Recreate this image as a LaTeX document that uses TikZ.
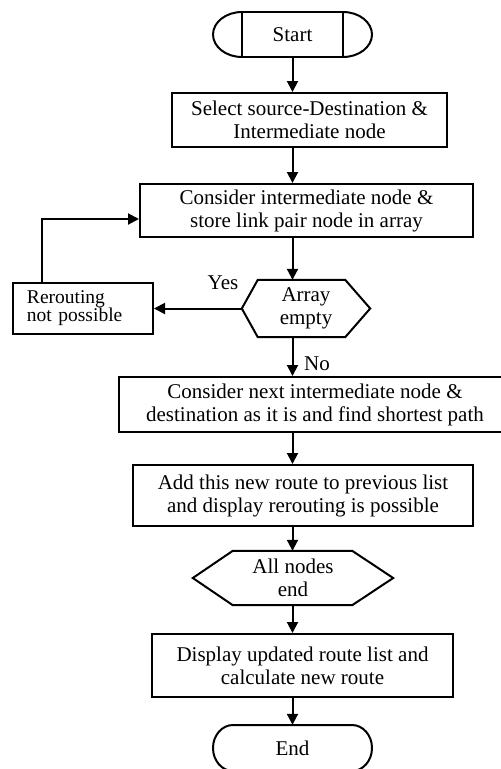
\documentclass[tikz,border=0pt]{standalone}
\usepackage{fontspec}
\setmainfont{Liberation Serif}
\usetikzlibrary{arrows.meta}
\begin{document}
\begin{tikzpicture}[x=1pt,y=-1pt,
  edgeline/.style={line width=2pt, draw=black},
  procbox/.style={draw=black, line width=2pt, rectangle, inner sep=0pt, align=center, font=\fontsize{21}{23}\selectfont},
  txt/.style={inner sep=0pt, align=center, font=\fontsize{21}{23}\selectfont},
  flowarrow/.style={line width=2pt, -{Triangle[width=11pt,length=11pt]}}]
\useasboundingbox (0,0) rectangle (501,769);
% Start terminal
\node[txt, minimum width=101pt, minimum height=45pt] (start) at (292.5,34.5) {Start};
\draw[edgeline] (start.north west) rectangle (start.south east);
\draw[edgeline] (242,12) .. controls (226,12) and (213,22.1) .. (213,34.5) .. controls (213,46.9) and (226,57) .. (242,57);
\draw[edgeline] (343,12) .. controls (359,12) and (372,22.1) .. (372,34.5) .. controls (372,46.9) and (359,57) .. (343,57);
% Boxes
\node[procbox, minimum width=275pt, minimum height=54pt] (b1) at (309.5,120) {Select source-Destination \&\\Intermediate node};
\node[procbox, minimum width=333pt, minimum height=53pt] (b2) at (306.5,210.5) {Consider intermediate node \&\\store link pair node in array};
\node[procbox, minimum width=140pt, minimum height=51pt, align=left, text width=112pt, inner xsep=14pt, font=\fontsize{19.5}{18}\selectfont] (rr) at (83,308.5) {Rerouting\\not possible};
\node[txt, minimum width=128pt, minimum height=57pt] (h1) at (306,308.5) {Array\\empty};
\draw[edgeline] (h1.west) -- ([xshift=16pt]h1.north west) -- ([xshift=-25pt]h1.north east) -- (h1.east) -- ([xshift=-25pt]h1.south east) -- ([xshift=16pt]h1.south west) -- cycle;
\node[procbox, minimum width=392pt, minimum height=55pt] (b3) at (315,404.5) {Consider next intermediate node \&\\destination as it is and find shortest path};
\node[procbox, minimum width=340pt, minimum height=61pt] (b4) at (303,495.5) {Add this new route to previous list\\and display rerouting is possible};
\node[txt, minimum width=200pt, minimum height=54pt] (h2) at (293,578) {All nodes\\end};
\draw[edgeline] (h2.west) -- ([xshift=40pt]h2.north west) -- ([xshift=-41pt]h2.north east) -- (h2.east) -- ([xshift=-41pt]h2.south east) -- ([xshift=40pt]h2.south west) -- cycle;
\node[procbox, minimum width=301pt, minimum height=63pt] (b5) at (302.5,665.5) {Display updated route list and\\calculate new route};
% End terminal
\node[txt, minimum width=159pt, minimum height=46pt] (endn) at (292.5,748) {End};
\draw[edgeline] (233,725) -- (352,725) .. controls (363,725) and (372,735.3) .. (372,748) .. controls (372,760.7) and (363,771) .. (352,771) -- (233,771) .. controls (222,771) and (213,760.7) .. (213,748) .. controls (213,735.3) and (222,725) .. (233,725) -- cycle;
% Labels
\node[txt] (yes) at (223,283) {Yes};
\node[txt, anchor=west] (no) at (304,364) {No};
% Arrows
\draw[flowarrow] (start.south) -- (start.south |- b1.north);
\draw[flowarrow] (start.south |- b1.south) -- (start.south |- b2.north);
\draw[flowarrow] (start.south |- b2.south) -- (start.south |- h1.north);
\draw[flowarrow] (h1.west) -- (h1.west -| rr.east);
\coordinate (loop) at (42,219);
\draw[flowarrow] (rr.north -| loop) -- (loop) -- (loop -| b2.west);
\draw[flowarrow] (start.south |- h1.south) -- (start.south |- b3.north);
\draw[flowarrow] (start.south |- b3.south) -- (start.south |- b4.north);
\draw[flowarrow] (start.south |- b4.south) -- (start.south |- h2.north);
\draw[flowarrow] (start.south |- h2.south) -- (start.south |- b5.north);
\draw[flowarrow] (start.south |- b5.south) -- (endn.north);
\end{tikzpicture}
\end{document}
